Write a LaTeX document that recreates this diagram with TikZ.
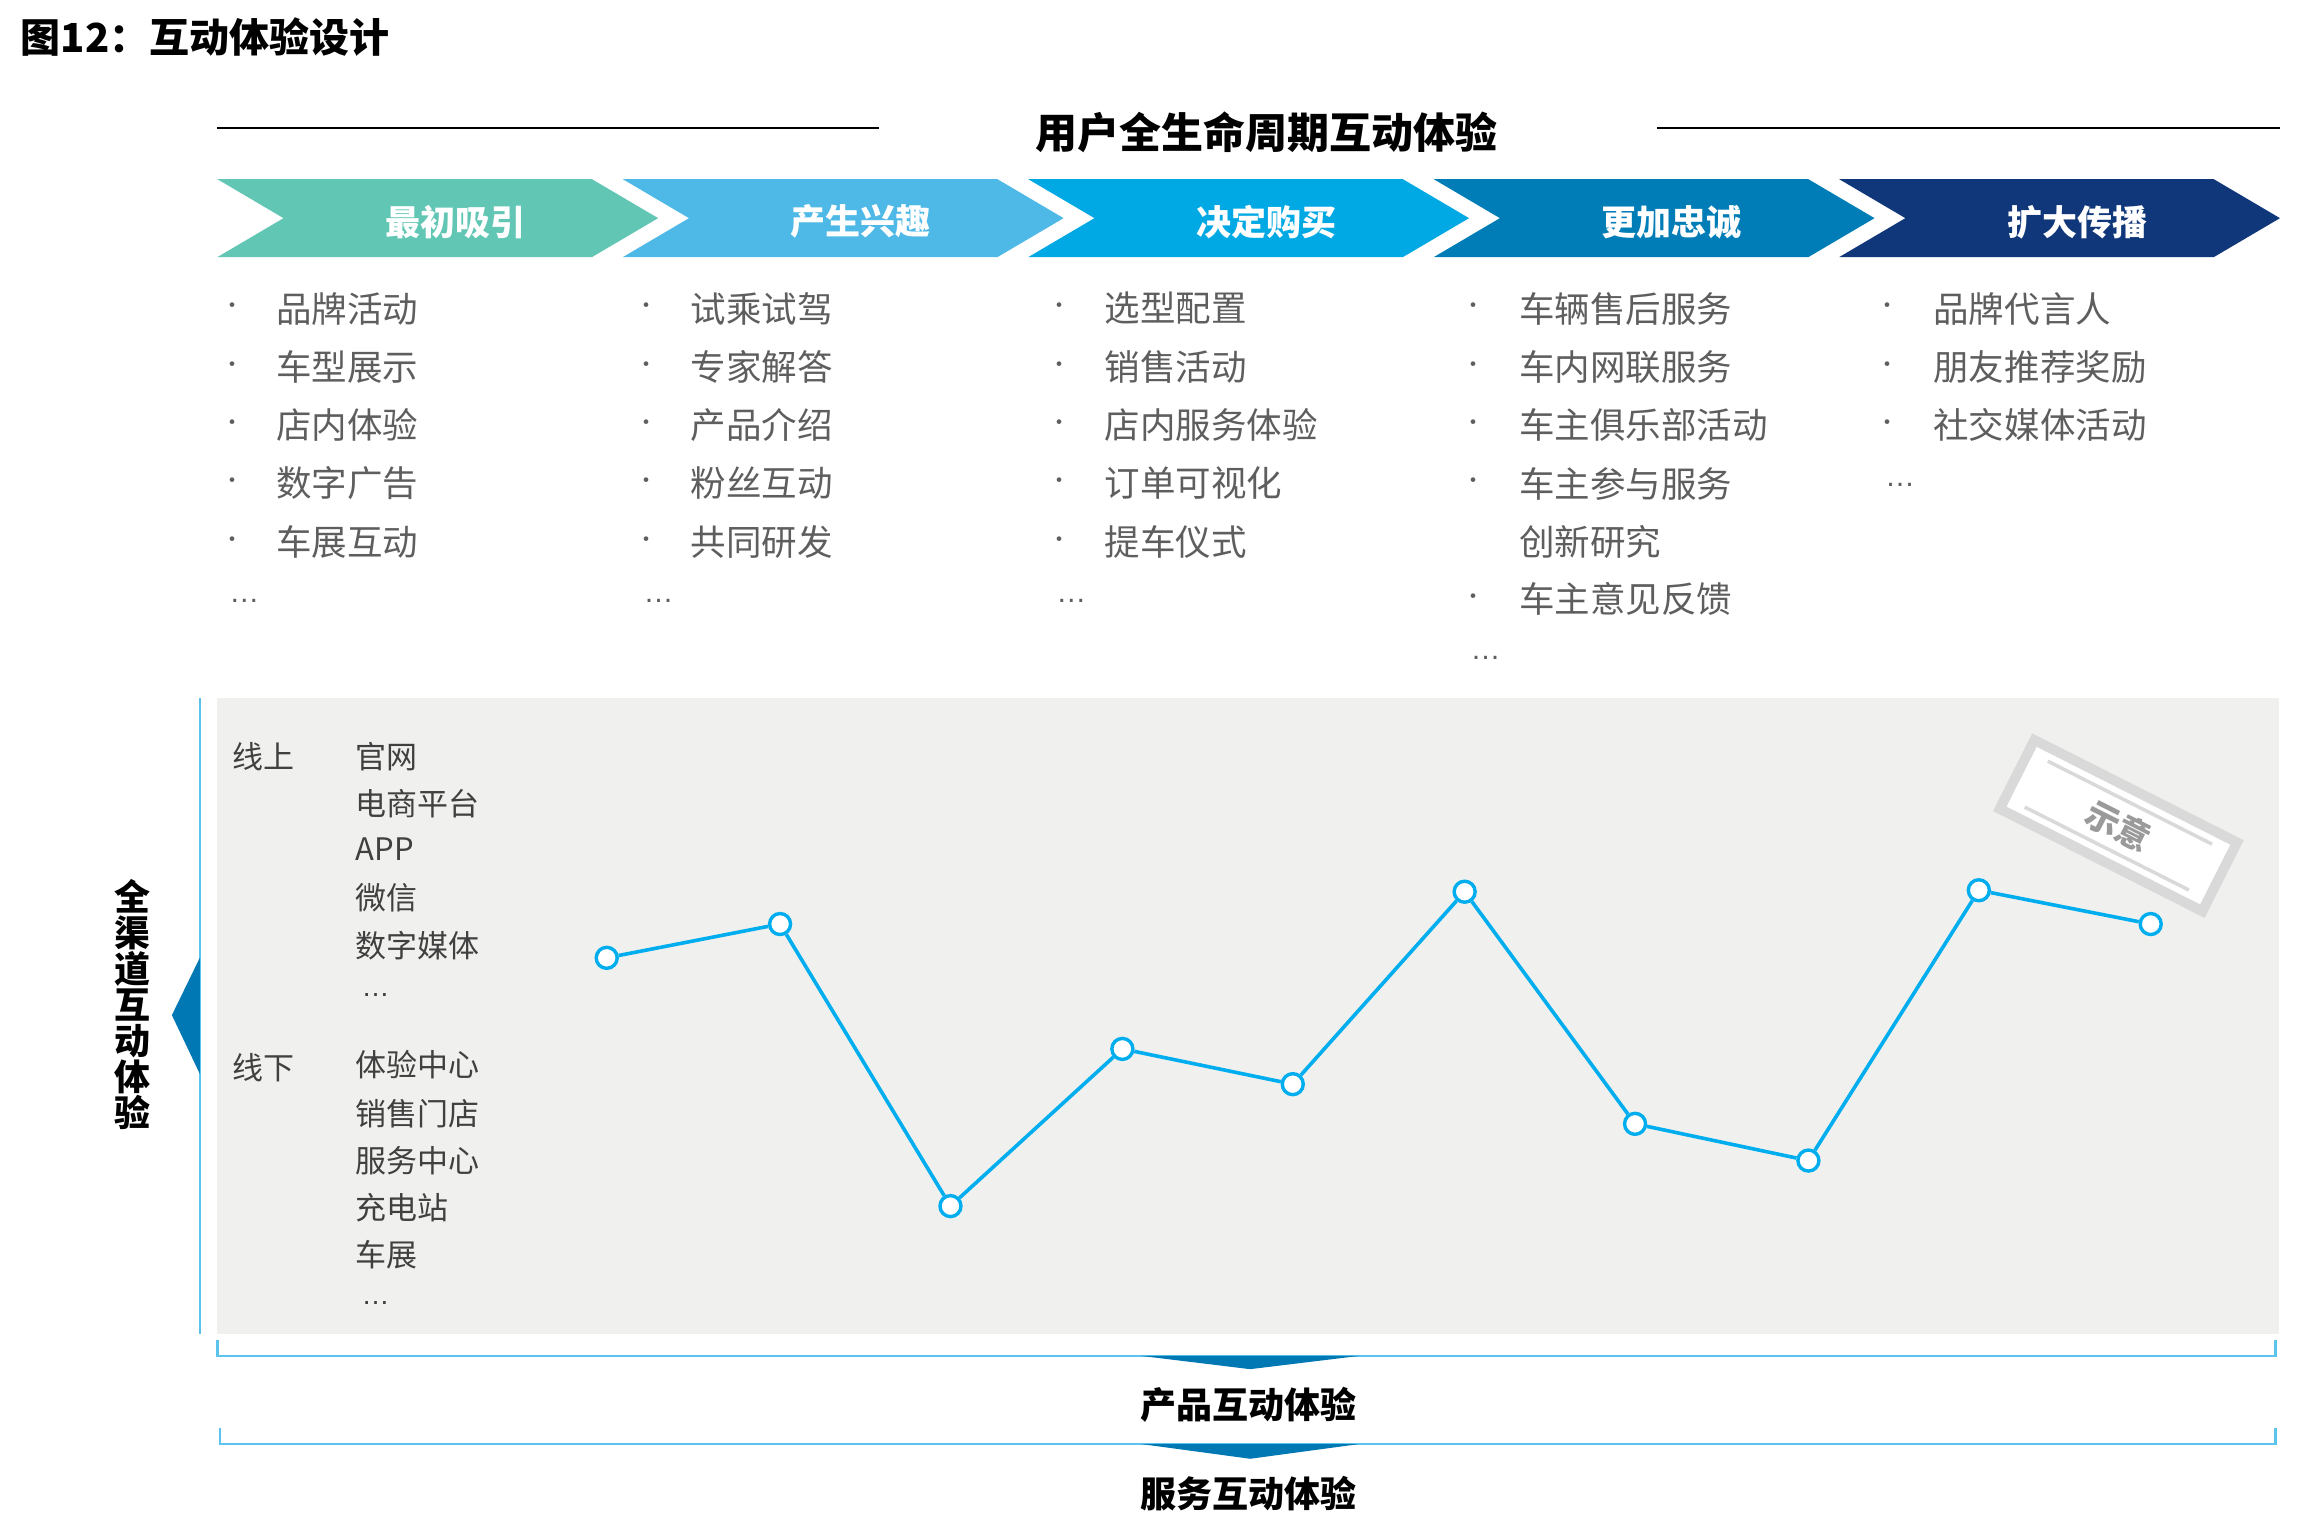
\documentclass[tikz,border=0pt]{standalone}
\usepackage{fontspec}
\setmainfont{Noto Sans CJK SC}
\newfontfamily\lat{Liberation Sans}
\definecolor{cA}{HTML}{62C6B5}
\definecolor{cB}{HTML}{4EB8E6}
\definecolor{cC}{HTML}{00A9E4}
\definecolor{cD}{HTML}{007DB6}
\definecolor{cE}{HTML}{10377A}
\definecolor{listgrey}{HTML}{5E5E5E}
\definecolor{innergrey}{HTML}{404040}
\definecolor{panel}{HTML}{F0F0EE}
\definecolor{lineblue}{HTML}{00AEEF}
\definecolor{thinblue}{HTML}{5BC3EC}
\definecolor{darkblue}{HTML}{0078B4}
\definecolor{stampgrey}{HTML}{D9D9D9}
\definecolor{stamptext}{HTML}{9A9A9A}
\newcommand\fs[1]{\fontsize{#1}{#1}\selectfont}
\begin{document}
\begin{tikzpicture}[x=1.469pt,y=-1.469pt,
  rulestyle/.style={line width=2.6pt,black},
  chevtext/.style={text=white,font=\bfseries\fs{35}},
  bul/.style={text=listgrey,font=\fs{22},inner sep=0pt},
  item/.style={anchor=west,text=listgrey,font=\fs{35.5},inner sep=0pt},
  dots/.style={anchor=base west,text=listgrey,font=\lat\fs{30},inner sep=0pt},
  inner/.style={anchor=west,text=innergrey,font=\fs{31},inner sep=0pt},
  idots/.style={anchor=base west,text=innergrey,font=\lat\fs{28},inner sep=0pt},
  pt/.style={circle,draw=lineblue,fill=white,line width=3.4pt,minimum size=21pt,inner sep=0pt},
  chart/.style={lineblue,line width=3.6pt},
  stamp/.style={rotate=-26.8,draw=stampgrey,line width=10pt,fill=white,minimum width=227pt,minimum height=77pt,inner sep=0pt,text=stamptext,font=\bfseries\fs{34}},
  stampline/.style={stampgrey,line width=3.5pt},
  brk/.style={thinblue,line width=2.2pt},
  tri/.style={fill=darkblue},
  bold36/.style={font=\bfseries\fs{36},text=black}
]
\useasboundingbox (0,0) rectangle (1567,1036);

% title
\node[anchor=west,font=\bfseries\fs{40},inner sep=0pt] (title) at (14,25) {图12：互动体验设计};

% header
\node[font=\bfseries\fs{42},inner sep=0pt] (head) at (862,90) {用户全生命周期互动体验};
\draw[rulestyle] (148,87) -- (598,87);
\draw[rulestyle] (1128,87) -- (1552,87);

% chevrons
\foreach \i/\c/\t in {0/cA/最初吸引,1/cB/产生兴趣,2/cC/决定购买,3/cD/更加忠诚,4/cE/扩大传播} {
  \pgfmathsetmacro\xo{148+276*\i}
  \fill[\c] (\xo,122) -- ++(255,0) -- ++(45,26.5) -- ++(-45,26.5) -- ++(-255,0) -- ++(45,-26.5) -- cycle;
  \node[chevtext] (ch\i) at (\xo+162,151) {\t};
}

% lists
\foreach \j/\t in {1/品牌活动,2/车型展示,3/店内体验,4/数字广告,5/车展互动} {
  \node[bul] (aB\j) at (158,{210+(\j-1)*39.7}) {•};
  \node[item] (a\j) at (188,{210+(\j-1)*39.7}) {\t};
}
\node[dots] (aD) at (156,410) {…};
\foreach \j/\t in {1/试乘试驾,2/专家解答,3/产品介绍,4/粉丝互动,5/共同研发} {
  \node[bul] (bB\j) at (440,{210+(\j-1)*39.7}) {•};
  \node[item] (b\j) at (470,{210+(\j-1)*39.7}) {\t};
}
\node[dots] (bD) at (438,410) {…};
\foreach \j/\t in {1/选型配置,2/销售活动,3/店内服务体验,4/订单可视化,5/提车仪式} {
  \node[bul] (cB\j) at (721,{210+(\j-1)*39.7}) {•};
  \node[item] (c\j) at (752,{210+(\j-1)*39.7}) {\t};
}
\node[dots] (cD) at (719,410) {…};
\foreach \j/\t in {1/车辆售后服务,2/车内网联服务,3/车主俱乐部活动,4/车主参与服务} {
  \node[bul] (dB\j) at (1003,{210+(\j-1)*39.7}) {•};
  \node[item] (d\j) at (1034,{210+(\j-1)*39.7}) {\t};
}
\node[item] (d5) at (1034,369) {创新研究};
\node[bul] (dB6) at (1003,408) {•};
\node[item] (d6) at (1034,408) {车主意见反馈};
\node[dots] (dD) at (1001,449) {…};
\foreach \j/\t in {1/品牌代言人,2/朋友推荐奖励,3/社交媒体活动} {
  \node[bul] (eB\j) at (1285,{210+(\j-1)*39.7}) {•};
  \node[item] (e\j) at (1316,{210+(\j-1)*39.7}) {\t};
}
\node[dots] (eD) at (1283,331) {…};

% panel
\fill[panel] (148,475) rectangle (1551,908);
\draw[thinblue,line width=1.6pt] (136,475) -- (136,908);
\fill[tri] (136,652) -- (117,691) -- (136,731) -- cycle;
\node[bold36,align=center,inner sep=0pt] (vt) at (90,684) {全\\渠\\道\\互\\动\\体\\验};

% channels
\node[inner] (on) at (158,515) {线上};
\foreach \j/\y/\t in {1/515/官网,2/547/电商平台,3/578/APP,4/611/微信,5/644/数字媒体} {
  \node[inner] (on\j) at (242,\y) {\t};
}
\node[idots] (onD) at (246,678) {…};
\node[inner] (off) at (158,727) {线下};
\foreach \j/\y/\t in {1/725/体验中心,2/758/销售门店,3/790/服务中心,4/822/充电站,5/854/车展} {
  \node[inner] (off\j) at (242,\y) {\t};
}
\node[idots] (offD) at (246,888) {…};

% chart
\foreach \k/\x/\y in {1/413/652,2/531/629,3/647/821,4/764/714,5/880/738,6/997/607,7/1113/765,8/1231/790,9/1347/606,10/1464/629} {
  \node[pt] (p\k) at (\x,\y) {};
}
\draw[chart] (p1) -- (p2);
\draw[chart] (p2) -- (p3);
\draw[chart] (p3) -- (p4);
\draw[chart] (p4) -- (p5);
\draw[chart] (p5) -- (p6);
\draw[chart] (p6) -- (p7);
\draw[chart] (p7) -- (p8);
\draw[chart] (p8) -- (p9);
\draw[chart] (p9) -- (p10);

% stamp
\node[stamp] (stamp) at (1442,562) {示意};
\begin{scope}[shift={(stamp.center)},rotate=-26.8]
  \draw[stampline] (-92pt,25.7pt) -- (92pt,25.7pt);
  \draw[stampline] (-92pt,-25.7pt) -- (92pt,-25.7pt);
\end{scope}

% bottom
\draw[brk] (148,912) -- (148,923) -- (1549,923) -- (1549,912);
\fill[tri] (777,923) -- (925,923) -- (851,932) -- cycle;
\node[bold36,inner sep=0pt] (pe) at (850,956) {产品互动体验};
\draw[brk] (150,972) -- (150,983) -- (1549,983) -- (1549,972);
\fill[tri] (777,983) -- (925,983) -- (851,993) -- cycle;
\node[bold36,inner sep=0pt] (se) at (850,1017) {服务互动体验};
\end{tikzpicture}
\end{document}
